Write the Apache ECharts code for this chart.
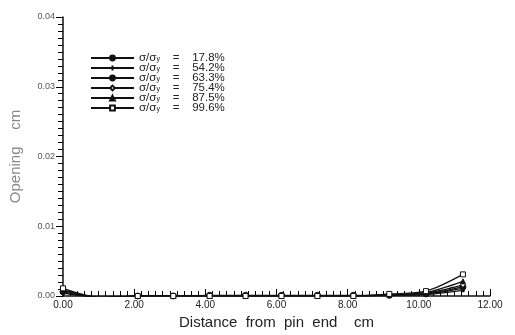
<!DOCTYPE html>
<html><head><meta charset="utf-8">
<script src="https://cdn.jsdelivr.net/npm/echarts@6/dist/echarts.min.js"></script>
<style>html,body{margin:0;padding:0;background:#fff}#c{width:515px;height:335px}</style>
</head><body><div id="c"></div>
<script>
var xValues = [0, 1.07, 2.1, 3.1, 4.12, 5.13, 6.14, 7.15, 8.16, 9.17, 10.2, 11.24];
var seriesNames = ['17.8%', '54.2%', '63.3%', '75.4%', '87.5%', '99.6%'];
var s178 = [0.0004, -0.0002, 0, 0, 0, 0, 0, 0, 0, 0.0001, 0.0002, 0.0008];
var s542 = [0.0005, -0.0002, 0, 0, 0, 0, 0, 0, 0, 0.0001, 0.0003, 0.0011];
var s633 = [0.0006, -0.0002, 0, 0, 0.0001, 0.0001, 0.0001, 0.0001, 0.0001, 0.0001, 0.0003, 0.0013];
var s754 = [0.0008, -0.0002, 0, 0, 0, 0, 0, 0, 0, 0.0002, 0.0004, 0.0016];
var s875 = [0.0009, -0.0002, 0, 0, 0, 0, 0, 0, 0, 0.0002, 0.0005, 0.0021];
var s996 = [0.0011, -0.0002, 0, 0, 0, 0, 0, 0, 0, 0.0003, 0.0007, 0.0031];
var allSeries = [s178, s542, s633, s754, s875, s996];
var symbols = ['circle', 'path://M-1,0H1M0,-1V1', 'circle', 'diamond', 'triangle', 'rect'];
var symSizes = [3, 5, 6, 5, 5, 5];
var filled = [true, true, true, false, true, false];

var chart = echarts.init(document.getElementById('c'));
var font = 'Liberation Sans';
var series = allSeries.map(function (vals, i) {
  return {
    name: seriesNames[i],
    type: 'line',
    data: vals.map(function (v, j) { return [xValues[j], v]; }),
    symbol: symbols[i],
    symbolSize: symSizes[i],
    showSymbol: true,
    smooth: 0.3,
    lineStyle: { color: '#111', width: 1.2 },
    itemStyle: { color: filled[i] ? '#111' : '#fff', borderColor: '#111', borderWidth: 1 },
    z: 2 + i
  };
});
chart.setOption({
  animation: false,
  backgroundColor: '#fff',
  textStyle: { fontFamily: font },
  grid: { left: 63, right: 25, top: 17, bottom: 39 },
  legend: {
    orient: 'vertical', left: 85, top: 47, itemGap: -2,
    itemWidth: 43, itemHeight: 6,
    data: seriesNames,
    formatter: function (name) { return '{a|σ/σ}{s|y}{a|    =    ' + name + '}'; },
    textStyle: {
      fontFamily: font, color: '#222', lineHeight: 9,
      rich: { a: { fontSize: 11.5, color: '#222', fontFamily: font, lineHeight: 9 }, s: { fontSize: 7, color: '#222', verticalAlign: 'bottom', fontFamily: font, lineHeight: 9 } }
    }
  },
  xAxis: {
    type: 'value', min: 0, max: 12, interval: 2,
    name: 'Distance  from  pin  end    cm', nameLocation: 'middle', nameGap: 18,
    nameTextStyle: { fontSize: 15, color: '#222', fontFamily: font },
    axisLine: { lineStyle: { color: '#111', width: 1.5 } },
    axisTick: { inside: true, length: 7, lineStyle: { color: '#000', width: 1 } },
    minorTick: { show: true, splitNumber: 10, length: 5, lineStyle: { color: '#000', width: 1 } },
    splitLine: { show: false },
    minorSplitLine: { show: false },
    axisLabel: { fontSize: 10, color: '#222', margin: 4, formatter: function (v) { return v.toFixed(2); } }
  },
  yAxis: {
    type: 'value', min: 0, max: 0.04, interval: 0.01,
    name: 'Opening    cm', nameLocation: 'middle', nameGap: 40,
    nameTextStyle: { fontSize: 15, color: '#888', fontFamily: font },
    axisLine: { show: true, lineStyle: { color: '#111', width: 1.5 } },
    axisTick: { show: true, length: 7, lineStyle: { color: '#000', width: 1 } },
    minorTick: { show: true, splitNumber: 10, length: 5, lineStyle: { color: '#000', width: 1 } },
    splitLine: { show: false },
    minorSplitLine: { show: false },
    axisLabel: { fontSize: 9, color: '#555', margin: 8, formatter: function (v) { return v.toFixed(2); } }
  },
  series: series
});
</script></body></html>
